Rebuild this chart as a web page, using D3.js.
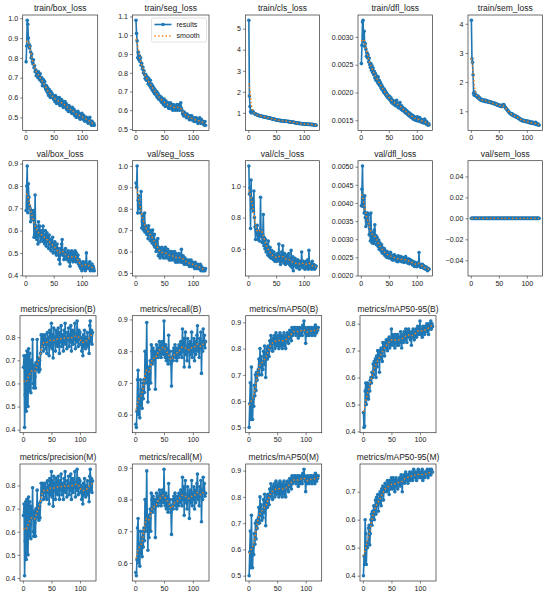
<!DOCTYPE html>
<html><head><meta charset="utf-8">
<script src="https://cdn.jsdelivr.net/npm/d3@7"></script>
<style>
body{margin:0;background:#fff}
svg{display:block}
text{font-family:"Liberation Sans",Arial,sans-serif;fill:#222}
</style>
</head><body>
<svg id="chart" width="550" height="598"></svg>
<script>
// ---------------- data ----------------
const trainBoxLoss = [
0.78,0.86,0.99,0.97,0.90,0.87,0.85,0.86,0.83,0.80,
0.82,0.78,0.77,0.79,0.75,0.76,0.73,0.74,0.71,0.73,
0.72,0.70,0.73,0.71,0.69,0.72,0.70,0.68,0.70,0.66,
0.67,0.69,0.66,0.68,0.65,0.64,0.66,0.63,0.65,0.62,
0.61,0.64,0.62,0.60,0.63,0.61,0.62,0.60,0.61,0.59,
0.60,0.58,0.61,0.59,0.57,0.60,0.58,0.59,0.57,0.60,
0.56,0.58,0.57,0.59,0.56,0.58,0.55,0.57,0.56,0.58,
0.55,0.57,0.54,0.56,0.55,0.53,0.56,0.54,0.55,0.53,
0.54,0.52,0.55,0.53,0.52,0.54,0.51,0.53,0.52,0.50,
0.52,0.51,0.53,0.50,0.52,0.51,0.49,0.51,0.50,0.52,
0.50,0.49,0.51,0.50,0.48,0.50,0.49,0.50,0.48,0.49,
0.47,0.49,0.48,0.50,0.47,0.48,0.46,0.48,0.47,0.46,0.47,0.46];
const trainSegLoss = [
1.08,1.01,0.97,0.88,0.91,0.87,0.89,0.86,0.88,0.84,
0.85,0.82,0.83,0.80,0.81,0.79,0.77,0.79,0.76,0.78,
0.76,0.74,0.77,0.75,0.73,0.76,0.72,0.74,0.71,0.73,
0.70,0.72,0.69,0.71,0.70,0.68,0.70,0.67,0.69,0.66,
0.68,0.66,0.67,0.65,0.67,0.64,0.66,0.65,0.63,0.66,
0.64,0.62,0.65,0.63,0.64,0.62,0.64,0.61,0.63,0.62,
0.64,0.61,0.63,0.62,0.60,0.63,0.61,0.62,0.60,0.62,
0.61,0.63,0.60,0.62,0.61,0.63,0.60,0.62,0.64,0.61,
0.60,0.58,0.59,0.57,0.59,0.58,0.57,0.58,0.56,0.58,
0.57,0.56,0.57,0.55,0.57,0.56,0.55,0.57,0.55,0.56,
0.55,0.54,0.56,0.55,0.54,0.56,0.54,0.55,0.53,0.55,
0.54,0.56,0.54,0.53,0.55,0.54,0.53,0.54,0.53,0.52,0.54,0.52];
const trainClsLoss = [
5.40,1.80,1.30,1.05,1.00,1.10,1.04,1.08,1.02,0.98,
0.97,0.95,0.93,0.94,0.91,0.90,0.88,0.89,0.87,0.86,
0.85,0.86,0.84,0.83,0.84,0.82,0.81,0.82,0.80,0.79,
0.80,0.78,0.79,0.77,0.78,0.76,0.75,0.76,0.74,0.73,
0.74,0.72,0.71,0.72,0.70,0.69,0.70,0.68,0.67,0.66,
0.67,0.65,0.66,0.64,0.65,0.63,0.64,0.63,0.62,0.63,
0.62,0.61,0.62,0.60,0.61,0.60,0.61,0.59,0.60,0.59,
0.60,0.58,0.59,0.57,0.58,0.57,0.56,0.57,0.55,0.56,
0.55,0.54,0.55,0.53,0.52,0.53,0.51,0.52,0.50,0.51,
0.50,0.49,0.50,0.48,0.49,0.48,0.49,0.47,0.48,0.47,
0.48,0.47,0.46,0.47,0.46,0.47,0.45,0.46,0.45,0.46,
0.45,0.44,0.45,0.44,0.45,0.43,0.44,0.43,0.42,0.43,0.42,0.41];
const trainDflLoss = [
0.00252,0.00285,0.00327,0.00330,0.00292,0.00310,0.00283,0.00288,0.00278,0.00265,
0.00272,0.00262,0.00268,0.00255,0.00262,0.00250,0.00245,0.00252,0.00240,0.00248,
0.00236,0.00244,0.00232,0.00238,0.00226,0.00234,0.00222,0.00230,0.00224,0.00218,
0.00228,0.00215,0.00222,0.00212,0.00218,0.00208,0.00214,0.00205,0.00210,0.00203,
0.00200,0.00206,0.00198,0.00202,0.00195,0.00199,0.00192,0.00196,0.00190,0.00194,
0.00188,0.00192,0.00185,0.00190,0.00182,0.00187,0.00180,0.00185,0.00182,0.00178,
0.00184,0.00176,0.00181,0.00186,0.00178,0.00174,0.00180,0.00172,0.00177,0.00182,
0.00175,0.00170,0.00176,0.00168,0.00173,0.00167,0.00171,0.00165,0.00170,0.00163,
0.00168,0.00162,0.00166,0.00160,0.00164,0.00158,0.00163,0.00157,0.00161,0.00155,
0.00160,0.00154,0.00158,0.00152,0.00157,0.00151,0.00155,0.00150,0.00154,0.00149,
0.00156,0.00150,0.00153,0.00148,0.00155,0.00149,0.00152,0.00147,0.00151,0.00146,
0.00150,0.00145,0.00149,0.00152,0.00146,0.00144,0.00148,0.00143,0.00145,0.00141,0.00144,0.00142];
const trainSemLoss = [
4.12,2.80,2.68,2.25,1.62,1.55,1.66,1.58,1.52,1.55,
1.50,1.47,1.52,1.45,1.42,1.46,1.40,1.38,1.41,1.37,
1.36,1.39,1.35,1.37,1.34,1.38,1.33,1.35,1.36,1.32,
1.34,1.31,1.33,1.30,1.32,1.29,1.31,1.28,1.30,1.27,
1.28,1.25,1.27,1.24,1.26,1.22,1.24,1.21,1.20,1.22,
1.18,1.20,1.17,1.19,1.16,1.18,1.22,1.20,1.23,1.18,
1.15,1.12,1.10,1.07,1.05,1.02,1.00,0.97,0.95,0.92,
0.93,0.90,0.88,0.91,0.86,0.88,0.84,0.86,0.82,0.84,
0.80,0.82,0.78,0.80,0.76,0.77,0.73,0.74,0.70,0.72,
0.68,0.70,0.67,0.69,0.66,0.68,0.65,0.67,0.64,0.66,
0.63,0.66,0.62,0.64,0.61,0.65,0.60,0.62,0.59,0.63,
0.58,0.60,0.57,0.61,0.56,0.62,0.58,0.55,0.57,0.53,0.55,0.52];
const valBoxLoss = [
0.69,0.80,0.89,0.68,0.81,0.75,0.71,0.70,0.64,0.69,
0.66,0.68,0.65,0.69,0.57,0.58,0.76,0.57,0.62,0.56,
0.60,0.54,0.64,0.58,0.62,0.55,0.60,0.57,0.59,0.56,
0.62,0.55,0.58,0.54,0.60,0.56,0.53,0.59,0.55,0.57,
0.52,0.58,0.54,0.56,0.51,0.55,0.53,0.57,0.50,0.54,
0.52,0.55,0.50,0.53,0.49,0.54,0.51,0.52,0.47,0.50,
0.45,0.52,0.50,0.54,0.56,0.49,0.51,0.47,0.50,0.48,
0.52,0.49,0.47,0.50,0.48,0.51,0.46,0.49,0.44,0.50,
0.47,0.51,0.48,0.46,0.50,0.47,0.49,0.51,0.46,0.50,
0.48,0.46,0.49,0.45,0.47,0.44,0.46,0.43,0.45,0.42,
0.44,0.46,0.43,0.45,0.44,0.42,0.46,0.50,0.43,0.44,
0.45,0.43,0.44,0.46,0.42,0.44,0.43,0.45,0.42,0.44,0.43,0.42];
const valSegLoss = [
0.92,0.90,1.00,0.78,0.84,0.86,0.80,0.82,0.78,0.88,
0.71,0.74,0.77,0.70,0.73,0.78,0.69,0.72,0.70,0.68,
0.71,0.66,0.72,0.68,0.70,0.65,0.69,0.67,0.64,0.70,
0.66,0.63,0.68,0.62,0.65,0.60,0.64,0.61,0.66,0.58,
0.62,0.60,0.57,0.61,0.59,0.62,0.58,0.60,0.57,0.61,
0.59,0.62,0.57,0.60,0.58,0.61,0.57,0.59,0.56,0.60,
0.58,0.56,0.60,0.57,0.59,0.56,0.58,0.60,0.57,0.55,
0.59,0.56,0.58,0.55,0.57,0.59,0.56,0.58,0.55,0.61,
0.57,0.55,0.58,0.56,0.54,0.57,0.55,0.56,0.54,0.56,
0.55,0.54,0.56,0.53,0.55,0.54,0.56,0.53,0.54,0.55,
0.53,0.54,0.52,0.55,0.53,0.54,0.52,0.53,0.54,0.52,
0.53,0.52,0.54,0.51,0.53,0.52,0.51,0.52,0.51,0.52,0.51,0.52];
const valClsLoss = [
1.13,0.95,0.99,0.73,1.04,0.86,0.92,0.88,0.84,0.97,
0.80,0.74,0.66,0.72,0.69,0.75,0.66,0.71,0.68,0.65,
0.72,0.93,0.68,0.70,0.64,0.69,0.82,0.62,0.67,0.60,
0.66,0.58,0.63,0.60,0.56,0.65,0.58,0.55,0.61,0.57,
0.54,0.59,0.55,0.57,0.53,0.58,0.54,0.52,0.56,0.54,
0.52,0.57,0.53,0.55,0.63,0.52,0.56,0.50,0.54,0.58,
0.52,0.62,0.55,0.51,0.57,0.53,0.50,0.55,0.52,0.56,
0.51,0.54,0.57,0.50,0.53,0.49,0.59,0.52,0.48,0.55,
0.46,0.52,0.50,0.54,0.49,0.52,0.48,0.51,0.53,0.49,
0.50,0.47,0.52,0.49,0.51,0.58,0.50,0.48,0.52,0.49,
0.51,0.47,0.50,0.52,0.48,0.50,0.53,0.47,0.59,0.49,
0.51,0.48,0.50,0.47,0.52,0.49,0.48,0.50,0.47,0.49,0.48,0.49];
const valDflLoss = [
0.00392,0.00438,0.00502,0.00390,0.00410,0.00372,0.00420,0.00360,0.00335,0.00372,
0.00350,0.00372,0.00342,0.00368,0.00312,0.00330,0.00295,0.00372,0.00308,0.00290,
0.00318,0.00300,0.00288,0.00325,0.00340,0.00296,0.00310,0.00285,0.00305,0.00292,
0.00280,0.00298,0.00272,0.00290,0.00278,0.00268,0.00285,0.00262,0.00276,0.00270,
0.00260,0.00274,0.00255,0.00268,0.00258,0.00250,0.00266,0.00254,0.00261,0.00248,
0.00258,0.00252,0.00264,0.00246,0.00256,0.00250,0.00242,0.00255,0.00248,0.00257,
0.00245,0.00253,0.00240,0.00251,0.00246,0.00238,0.00254,0.00243,0.00249,0.00240,
0.00252,0.00244,0.00238,0.00250,0.00241,0.00247,0.00236,0.00248,0.00242,0.00252,
0.00237,0.00245,0.00240,0.00234,0.00246,0.00239,0.00232,0.00244,0.00236,0.00241,
0.00233,0.00240,0.00228,0.00238,0.00231,0.00225,0.00236,0.00229,0.00234,0.00224,
0.00232,0.00227,0.00235,0.00263,0.00226,0.00230,0.00222,0.00228,0.00224,0.00231,
0.00222,0.00227,0.00219,0.00225,0.00221,0.00217,0.00223,0.00218,0.00213,0.00220,0.00216,0.00218];
const valSemLoss = [
0,0,0,0,0,0,0,0,0,0, 0,0,0,0,0,0,0,0,0,0, 0,0,0,0,0,0,0,0,0,0,
0,0,0,0,0,0,0,0,0,0, 0,0,0,0,0,0,0,0,0,0, 0,0,0,0,0,0,0,0,0,0,
0,0,0,0,0,0,0,0,0,0, 0,0,0,0,0,0,0,0,0,0, 0,0,0,0,0,0,0,0,0,0,
0,0,0,0,0,0,0,0,0,0, 0,0,0,0,0,0,0,0,0,0, 0,0,0,0,0,0,0,0,0,0,0,0];
const precisionB = [
0.67,0.72,0.41,0.55,0.72,0.48,0.74,0.60,0.50,0.75,
0.57,0.73,0.62,0.56,0.70,0.66,0.79,0.60,0.58,0.68,
0.63,0.58,0.69,0.66,0.79,0.67,0.71,0.65,0.70,0.66,
0.73,0.81,0.76,0.78,0.81,0.74,0.80,0.77,0.81,0.75,
0.79,0.73,0.82,0.77,0.80,0.72,0.83,0.76,0.79,0.86,
0.75,0.81,0.71,0.84,0.78,0.80,0.74,0.83,0.77,0.82,
0.76,0.84,0.79,0.73,0.82,0.78,0.85,0.76,0.81,0.79,
0.74,0.83,0.78,0.86,0.77,0.80,0.75,0.82,0.79,0.84,
0.76,0.81,0.78,0.85,0.74,0.80,0.83,0.77,0.82,0.79,
0.86,0.75,0.81,0.78,0.87,0.80,0.76,0.83,0.79,0.82,
0.77,0.80,0.74,0.79,0.72,0.81,0.76,0.83,0.78,0.75,
0.80,0.77,0.82,0.76,0.79,0.73,0.85,0.87,0.78,0.83,0.77,0.82];
const recallB = [
0.57,0.56,0.61,0.71,0.74,0.60,0.66,0.59,0.71,0.63,
0.68,0.62,0.70,0.65,0.71,0.67,0.80,0.70,0.76,0.89,
0.72,0.64,0.75,0.68,0.73,0.77,0.70,0.82,0.80,0.76,
0.81,0.79,0.77,0.80,0.68,0.78,0.82,0.79,0.81,0.78,
0.80,0.83,0.79,0.82,0.78,0.81,0.83,0.80,0.79,0.895,
0.80,0.78,0.82,0.77,0.81,0.79,0.76,0.85,0.78,0.80,
0.77,0.76,0.69,0.78,0.80,0.77,0.81,0.79,0.82,0.78,
0.80,0.77,0.81,0.79,0.78,0.82,0.80,0.79,0.83,0.81,
0.78,0.87,0.80,0.84,0.75,0.82,0.86,0.79,0.81,0.77,
0.84,0.80,0.82,0.75,0.83,0.79,0.81,0.86,0.78,0.82,
0.80,0.84,0.77,0.83,0.79,0.81,0.85,0.88,0.80,0.82,
0.78,0.84,0.81,0.86,0.73,0.83,0.80,0.87,0.82,0.85,0.81,0.83];
const mAP50B = [
0.50,0.59,0.67,0.53,0.73,0.60,0.53,0.61,0.58,0.66,
0.62,0.70,0.64,0.71,0.68,0.70,0.72,0.76,0.70,0.80,
0.73,0.77,0.70,0.75,0.72,0.79,0.74,0.81,0.76,0.69,
0.78,0.80,0.76,0.81,0.79,0.77,0.83,0.80,0.85,0.81,
0.83,0.79,0.84,0.82,0.85,0.80,0.83,0.86,0.81,0.84,
0.82,0.85,0.80,0.84,0.86,0.81,0.83,0.85,0.80,0.84,
0.82,0.86,0.81,0.84,0.80,0.85,0.83,0.86,0.84,0.82,
0.85,0.87,0.84,0.86,0.83,0.88,0.85,0.87,0.86,0.88,
0.86,0.88,0.85,0.87,0.86,0.88,0.84,0.87,0.88,0.85,
0.87,0.86,0.88,0.85,0.89,0.87,0.905,0.88,0.86,0.82,
0.87,0.85,0.88,0.86,0.87,0.85,0.88,0.86,0.87,0.88,
0.85,0.87,0.86,0.88,0.87,0.85,0.89,0.87,0.86,0.88,0.87,0.88];
const mAP5095B = [
0.47,0.415,0.42,0.55,0.58,0.50,0.53,0.58,0.53,0.52,
0.57,0.55,0.59,0.60,0.58,0.62,0.60,0.65,0.61,0.66,
0.63,0.67,0.60,0.68,0.64,0.70,0.66,0.69,0.62,0.70,
0.67,0.71,0.69,0.66,0.73,0.70,0.72,0.68,0.73,0.71,
0.74,0.72,0.70,0.74,0.73,0.75,0.71,0.74,0.72,0.78,
0.73,0.76,0.72,0.75,0.74,0.71,0.76,0.73,0.75,0.72,
0.76,0.74,0.72,0.75,0.73,0.77,0.74,0.71,0.75,0.76,
0.73,0.77,0.75,0.74,0.78,0.75,0.73,0.77,0.76,0.78,
0.75,0.77,0.74,0.76,0.72,0.77,0.75,0.78,0.76,0.74,
0.77,0.76,0.78,0.75,0.77,0.79,0.76,0.78,0.77,0.81,
0.76,0.78,0.77,0.75,0.79,0.77,0.78,0.76,0.79,0.77,
0.78,0.80,0.77,0.79,0.76,0.80,0.78,0.79,0.81,0.78,0.80,0.79];
const precisionM = [
0.67,0.72,0.41,0.56,0.73,0.48,0.74,0.61,0.50,0.75,
0.58,0.73,0.63,0.57,0.71,0.66,0.79,0.60,0.58,0.69,
0.64,0.58,0.70,0.66,0.78,0.67,0.72,0.65,0.71,0.66,
0.73,0.81,0.76,0.79,0.81,0.74,0.80,0.77,0.81,0.75,
0.79,0.74,0.82,0.77,0.80,0.72,0.83,0.76,0.80,0.86,
0.75,0.82,0.71,0.84,0.78,0.81,0.74,0.83,0.77,0.82,
0.76,0.84,0.79,0.74,0.82,0.78,0.85,0.76,0.81,0.80,
0.74,0.83,0.78,0.86,0.77,0.80,0.75,0.82,0.79,0.84,
0.76,0.81,0.78,0.85,0.74,0.80,0.83,0.77,0.82,0.79,
0.86,0.75,0.81,0.78,0.87,0.80,0.76,0.83,0.79,0.82,
0.77,0.80,0.74,0.79,0.72,0.81,0.76,0.83,0.78,0.75,
0.80,0.77,0.82,0.76,0.79,0.73,0.84,0.87,0.78,0.83,0.77,0.82];
const recallM = [
0.57,0.56,0.61,0.71,0.74,0.60,0.66,0.59,0.70,0.63,
0.68,0.62,0.70,0.65,0.71,0.67,0.80,0.70,0.76,0.89,
0.72,0.64,0.75,0.68,0.74,0.77,0.70,0.82,0.80,0.76,
0.81,0.79,0.77,0.80,0.68,0.78,0.82,0.79,0.81,0.78,
0.80,0.83,0.79,0.82,0.78,0.81,0.83,0.80,0.79,0.895,
0.80,0.78,0.82,0.77,0.81,0.79,0.76,0.85,0.78,0.80,
0.77,0.76,0.69,0.78,0.80,0.77,0.81,0.79,0.82,0.78,
0.80,0.77,0.81,0.79,0.78,0.82,0.80,0.79,0.83,0.81,
0.78,0.87,0.80,0.84,0.75,0.82,0.86,0.79,0.81,0.77,
0.84,0.80,0.82,0.74,0.83,0.79,0.81,0.86,0.78,0.82,
0.80,0.84,0.77,0.83,0.79,0.81,0.85,0.88,0.80,0.82,
0.78,0.84,0.81,0.86,0.73,0.83,0.80,0.87,0.82,0.85,0.81,0.82];
const mAP50M = [
0.50,0.59,0.67,0.53,0.73,0.60,0.53,0.61,0.58,0.66,
0.62,0.70,0.64,0.71,0.68,0.70,0.72,0.76,0.70,0.80,
0.73,0.77,0.71,0.75,0.72,0.79,0.74,0.81,0.76,0.69,
0.78,0.80,0.76,0.81,0.79,0.77,0.83,0.80,0.85,0.81,
0.83,0.79,0.84,0.82,0.85,0.80,0.83,0.86,0.81,0.84,
0.82,0.85,0.80,0.84,0.86,0.81,0.83,0.85,0.80,0.84,
0.82,0.86,0.81,0.84,0.80,0.85,0.83,0.86,0.84,0.82,
0.85,0.87,0.84,0.86,0.83,0.88,0.85,0.87,0.86,0.88,
0.86,0.88,0.85,0.87,0.86,0.88,0.84,0.87,0.88,0.85,
0.87,0.86,0.88,0.85,0.89,0.87,0.905,0.88,0.86,0.82,
0.87,0.85,0.88,0.86,0.87,0.85,0.88,0.86,0.87,0.88,
0.85,0.87,0.86,0.88,0.87,0.85,0.89,0.87,0.86,0.88,0.87,0.88];
const mAP5095M = [
0.40,0.47,0.44,0.60,0.55,0.44,0.51,0.50,0.52,0.57,
0.58,0.51,0.55,0.60,0.62,0.58,0.63,0.61,0.65,0.60,
0.64,0.67,0.62,0.68,0.65,0.69,0.63,0.67,0.66,0.70,
0.68,0.65,0.71,0.69,0.72,0.67,0.71,0.70,0.73,0.71,
0.72,0.70,0.74,0.71,0.73,0.69,0.74,0.72,0.71,0.75,
0.73,0.71,0.75,0.72,0.74,0.70,0.73,0.75,0.72,0.74,
0.71,0.74,0.73,0.75,0.72,0.74,0.76,0.73,0.70,0.75,
0.74,0.76,0.73,0.75,0.77,0.74,0.76,0.75,0.73,0.76,
0.75,0.77,0.74,0.76,0.75,0.77,0.74,0.76,0.78,0.75,
0.76,0.77,0.75,0.74,0.77,0.76,0.78,0.75,0.77,0.76,
0.77,0.75,0.76,0.78,0.74,0.77,0.76,0.75,0.77,0.76,
0.77,0.76,0.78,0.75,0.77,0.76,0.78,0.77,0.76,0.78,0.77,0.77];

// tick labels
const xTicks = [0, 50, 100];
const ticksBox = [0.5,0.6,0.7,0.8,0.9,1.0];
const ticksSeg = [0.5,0.6,0.7,0.8,0.9,1.0,1.1];
const ticksCls = [1,2,3,4,5];
const ticksDfl = [0.0015,0.0020,0.0025,0.0030];
const ticksSem = [1,2,3,4];
const ticksValBox = [0.4,0.5,0.6,0.7,0.8,0.9];
const ticksValSeg = [0.5,0.6,0.7,0.8,0.9,1.0];
const ticksValCls = [0.6,0.8,1.0];
const ticksValDfl = [0.0020,0.0025,0.0030,0.0035,0.0040,0.0045,0.0050];
const ticksValSem = [-0.04,-0.02,0.00,0.02,0.04];
const ticksPrec = [0.4,0.5,0.6,0.7,0.8];
const ticksRecall = [0.6,0.7,0.8,0.9];
const ticksMap50 = [0.5,0.6,0.7,0.8,0.9];
const ticksMap95B = [0.4,0.5,0.6,0.7,0.8];
const ticksMap95M = [0.4,0.5,0.6,0.7];

const panels = [
 {title:"train/box_loss", v:trainBoxLoss, t:ticksBox, f:".1f"},
 {title:"train/seg_loss", v:trainSegLoss, t:ticksSeg, f:".1f", legend:true},
 {title:"train/cls_loss", v:trainClsLoss, t:ticksCls, f:"d"},
 {title:"train/dfl_loss", v:trainDflLoss, t:ticksDfl, f:".4f"},
 {title:"train/sem_loss", v:trainSemLoss, t:ticksSem, f:"d"},
 {title:"val/box_loss", v:valBoxLoss, t:ticksValBox, f:".1f"},
 {title:"val/seg_loss", v:valSegLoss, t:ticksValSeg, f:".1f"},
 {title:"val/cls_loss", v:valClsLoss, t:ticksValCls, f:".1f"},
 {title:"val/dfl_loss", v:valDflLoss, t:ticksValDfl, f:".4f"},
 {title:"val/sem_loss", v:valSemLoss, t:ticksValSem, f:".2f"},
 {title:"metrics/precision(B)", v:precisionB, t:ticksPrec, f:".1f"},
 {title:"metrics/recall(B)", v:recallB, t:ticksRecall, f:".1f"},
 {title:"metrics/mAP50(B)", v:mAP50B, t:ticksMap50, f:".1f"},
 {title:"metrics/mAP50-95(B)", v:mAP5095B, t:ticksMap95B, f:".1f"},
 {title:"metrics/precision(M)", v:precisionM, t:ticksPrec, f:".1f"},
 {title:"metrics/recall(M)", v:recallM, t:ticksRecall, f:".1f"},
 {title:"metrics/mAP50(M)", v:mAP50M, t:ticksMap50, f:".1f"},
 {title:"metrics/mAP50-95(M)", v:mAP5095M, t:ticksMap95M, f:".1f"}
];

// ---------------- layout ----------------
const rowsY = [[15,130.5],[160.7,276],[315.7,432.7],[464,581]];
const colsTop = [[22.7,97.7],[132.5,209],[245.5,319.5],[358,432.5],[468,542.5]];
const colsBottom = [[20,96],[132.3,209],[245.7,321.7],[360,436]];
const BLUE = "#1f77b4", ORANGE = "#ff7f0e";

function gaussianSmooth(arr, sigma){
  const rad = Math.round(4*sigma), w = []; let s = 0;
  for(let i=-rad;i<=rad;i++){const g=Math.exp(-0.5*i*i/(sigma*sigma)); w.push(g); s+=g;}
  const n = arr.length;
  const idx = k => { while(k<0||k>=n){ if(k<0) k=-k-1; if(k>=n) k=2*n-k-1; } return k; };
  return arr.map((_,i)=>{let a=0; for(let j=-rad;j<=rad;j++) a+=w[j+rad]*arr[idx(i+j)]; return a/s;});
}

const svg = d3.select("#chart");
svg.append("rect").attr("width",550).attr("height",598).attr("fill","#fff");

panels.forEach((p, k) => {
  let row, col, cx;
  if(k < 10){ row = Math.floor(k/5); col = k%5; cx = colsTop[col]; }
  else { row = 2 + Math.floor((k-10)/4); col = (k-10)%4; cx = colsBottom[col]; }
  const [l, r] = cx, [t, b] = rowsY[row];
  const n = p.v.length;
  const epochs = d3.range(1, n+1);
  const xp = (n-1)*0.05;
  const x = d3.scaleLinear().domain([1-xp, n+xp]).range([l, r]);
  let [mn, mx] = d3.extent(p.v), y0, y1;
  if(mn === mx){ y0 = mn-0.055; y1 = mx+0.055; } else { const pd=(mx-mn)*0.05; y0=mn-pd; y1=mx+pd; }
  const y = d3.scaleLinear().domain([y0, y1]).range([b, t]);
  const g = svg.append("g");

  const xa = g.append("g").attr("transform",`translate(0,${b})`)
    .call(d3.axisBottom(x).tickValues(xTicks).tickSize(2.5).tickPadding(2).tickFormat(d3.format("d")));
  const ya = g.append("g").attr("transform",`translate(${l},0)`)
    .call(d3.axisLeft(y).tickValues(p.t).tickSize(2.5).tickPadding(2).tickFormat(d3.format(p.f)));
  [xa, ya].forEach(a => {
    a.select(".domain").remove();
    a.selectAll(".tick line").attr("stroke","#333").attr("stroke-width",0.6);
    a.selectAll(".tick text").attr("font-size","7.1px").attr("fill","#222")
      .attr("font-family","'Liberation Sans',Arial,sans-serif");
  });

  const sm = gaussianSmooth(p.v, 3);
  const line = d3.line().x((d,i)=>x(epochs[i])).y(d=>y(d));
  g.append("path").attr("d", line(p.v)).attr("fill","none").attr("stroke",BLUE)
    .attr("stroke-width",1.6).attr("stroke-linejoin","round");
  g.selectAll("circle.pt").data(p.v).join("circle").attr("class","pt")
    .attr("cx",(d,i)=>x(epochs[i])).attr("cy",d=>y(d)).attr("r",1.8).attr("fill",BLUE);
  g.append("path").attr("d", line(sm)).attr("fill","none").attr("stroke",ORANGE)
    .attr("stroke-width",1.4).attr("stroke-dasharray","1.4,2.3");

  g.append("rect").attr("x",l).attr("y",t).attr("width",r-l).attr("height",b-t)
    .attr("fill","none").attr("stroke","#333").attr("stroke-width",0.7);

  g.append("text").attr("x",(l+r)/2).attr("y",t-4).attr("text-anchor","middle")
    .attr("font-size","8.5px").text(p.title);

  if(p.legend){
    const lx = r-57.5, ly = t+3;
    const lg = g.append("g");
    lg.append("rect").attr("x",lx).attr("y",ly).attr("width",55).attr("height",24)
      .attr("rx",1.5).attr("fill","rgba(255,255,255,0.8)").attr("stroke","#ccc").attr("stroke-width",0.6);
    lg.append("line").attr("x1",lx+3).attr("x2",lx+20).attr("y1",ly+6.5).attr("y2",ly+6.5)
      .attr("stroke",BLUE).attr("stroke-width",1.6);
    lg.append("circle").attr("cx",lx+11.5).attr("cy",ly+6.5).attr("r",1.8).attr("fill",BLUE);
    lg.append("text").attr("x",lx+25).attr("y",ly+6.5).attr("dy","0.35em").attr("font-size","7.1px").text("results");
    lg.append("line").attr("x1",lx+3).attr("x2",lx+20).attr("y1",ly+18).attr("y2",ly+18)
      .attr("stroke",ORANGE).attr("stroke-width",1.4).attr("stroke-dasharray","1.4,2.3");
    lg.append("text").attr("x",lx+25).attr("y",ly+18).attr("dy","0.35em").attr("font-size","7.1px").text("smooth");
  }
});
</script>
</body></html>
